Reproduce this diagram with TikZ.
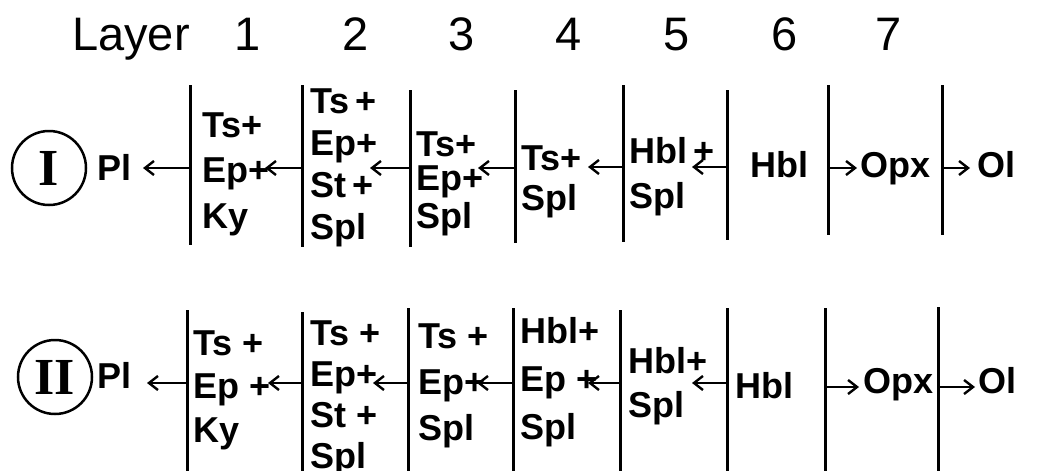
\documentclass[tikz,border=0pt]{standalone}
\usepackage{fontspec}
\setmainfont{Liberation Sans}
\newfontfamily\numeralfont{Liberation Serif}
\usetikzlibrary{arrows.meta}

\begin{document}
% multi-line cells are placed by the baseline of their last line
\begin{tikzpicture}[x=1pt,y=-1pt,
  divider/.style={line width=3pt},
  flow/.style={line width=2.4pt,-{Straight Barb[length=9pt,width=14pt]}},
  cell/.style={anchor=base west,inner sep=0pt,align=left,
    font=\bfseries\fontsize{36}{#1}\selectfont},
  lbl/.style={anchor=base west,inner sep=0pt,font=\bfseries\fontsize{36}{43}\selectfont},
  head/.style={anchor=base,inner sep=0pt,font=\fontsize{47}{54}\selectfont},
  phase/.style={circle,draw,line width=2.5pt,minimum size=74pt,inner sep=0pt,
    font=\numeralfont\bfseries\fontsize{52}{60}\selectfont}
]
\useasboundingbox (0,0) rectangle (1044,471);

% header
\node[head,anchor=base west] (hdr) at (72,50) {Layer};
\foreach \n/\x in {1/248,2/356,3/462,4/569,5/677,6/785,7/889}
  \node[head] (L\n) at (\x,50) {\n};

% ---------------- assemblage I ----------------
\foreach \x/\t/\b in {190/85/245,302/85/247,410/90/247,515/90/243,
                      623/85/242,727/90/240,828/85/235,942/85/235}
  \draw[divider] (\x,\t) -- (\x,\b);

\node[phase] (p1) at (49,168) {I};
\node[lbl] (p1pl) at (97,180) {Pl};
\node[cell=45.5] (p1c1) at (202,228) {Ts+\\Ep+\\Ky};
\node[cell=42] (p1c2) at (310,239) {Ts\,+\\Ep+\\St\,+\\Spl};
\node[cell=34] (p1c3) at (416,228) {Ts+\\Ep+\\[4pt]Spl};
\node[cell=40] (p1c4) at (521,210) {Ts+\\Spl};
\node[cell=45] (p1c5) at (629,208) {Hbl\,+\\Spl};
\node[lbl] (p1c6) at (750,177) {Hbl};
\node[lbl] (p1opx) at (860,177) {Opx};
\node[lbl] (p1ol) at (977,177) {Ol};

\coordinate (a1s) at (190,168); \coordinate (a1e) at (143,168);
\coordinate (a2s) at (302,168); \coordinate (a2e) at (265,168);
\coordinate (a3s) at (410,168); \coordinate (a3e) at (370,168);
\coordinate (a4s) at (515,168); \coordinate (a4e) at (478,168);
\coordinate (a5s) at (623,167); \coordinate (a5e) at (588,167);
\coordinate (a6s) at (727,167); \coordinate (a6e) at (692,167);
\coordinate (a7s) at (828,168); \coordinate (a7e) at (857,168);
\coordinate (a8s) at (942,168); \coordinate (a8e) at (970,168);
\foreach \k in {1,...,8} \draw[flow] (a\k s) -- (a\k e);

% ---------------- assemblage II ----------------
\foreach \x/\t in {187/310,302/312,408/308,513/308,620/310,727/308,825/308,938/307}
  \draw[divider] (\x,\t) -- (\x,471);

\node[phase] (p2) at (55,377) {II};
\node[lbl] (p2pl) at (97,388) {Pl};
\node[cell=43.5] (p2c1) at (193,442) {Ts +\\Ep +\\Ky};
\node[cell=41] (p2c2) at (310,468) {Ts +\\Ep+\\St +\\Spl};
\node[cell=46] (p2c3) at (418,440) {Ts +\\Ep+\\Spl};
\node[cell=48] (p2c4) at (520,439) {Hbl+\\Ep +\\Spl};
\node[cell=44] (p2c5) at (628,417) {Hbl+\\Spl};
\node[lbl] (p2c6) at (735,398) {Hbl};
\node[lbl] (p2opx) at (863,393) {Opx};
\node[lbl] (p2ol) at (978,393) {Ol};

\coordinate (b1s) at (187,383); \coordinate (b1e) at (147,383);
\coordinate (b2s) at (302,383); \coordinate (b2e) at (268,383);
\coordinate (b3s) at (408,383); \coordinate (b3e) at (373,383);
\coordinate (b4s) at (513,383); \coordinate (b4e) at (477,383);
\coordinate (b5s) at (620,383); \coordinate (b5e) at (588,383);
\coordinate (b6s) at (727,383); \coordinate (b6e) at (692,383);
\coordinate (b7s) at (825,387); \coordinate (b7e) at (859,387);
\coordinate (b8s) at (938,387); \coordinate (b8e) at (975,387);
\foreach \k in {1,...,8} \draw[flow] (b\k s) -- (b\k e);
\end{tikzpicture}
\end{document}
